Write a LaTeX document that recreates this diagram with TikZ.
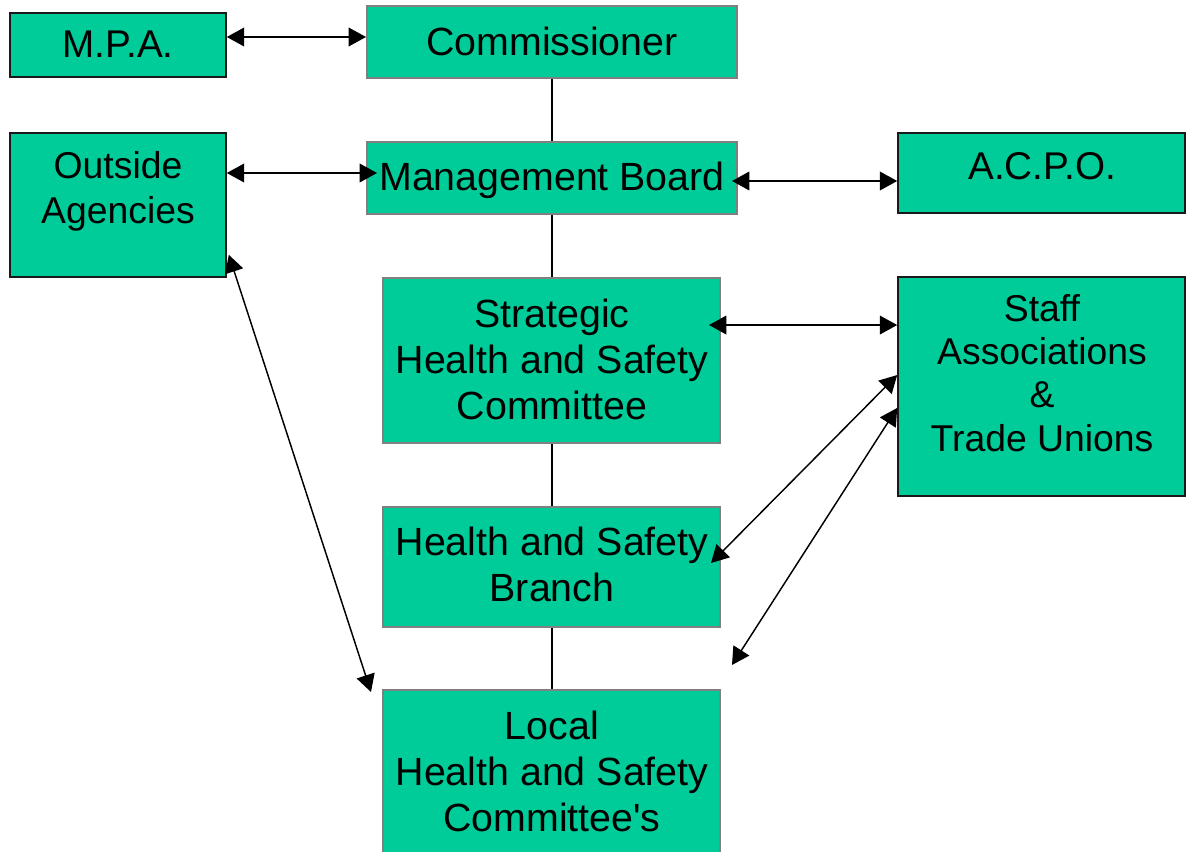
\documentclass[tikz,border=0pt]{standalone}
\usepackage{fontspec}
\setmainfont{Liberation Sans}
\usetikzlibrary{fit,arrows.meta}
\definecolor{boxgreen}{RGB}{0,204,153}
\definecolor{greyline}{RGB}{128,128,128}
\definecolor{darkline}{RGB}{25,25,25}
\tikzset{
  gbox/.style={draw=greyline, line width=1.5pt, fill=boxgreen, inner sep=0pt},
  dbox/.style={draw=darkline, line width=1.2pt, fill=boxgreen, inner sep=0pt},
  lbl/.style={anchor=north, inner sep=0pt, align=center, font=\fontsize{29.5}{34.5}\selectfont},
  slbl/.style={lbl, font=\fontsize{28}{32.5}\selectfont},
  dbl/.style={line width=1.1pt, {Triangle[length=13pt,width=14pt]}-{Triangle[length=13pt,width=14pt]}},
  spine/.style={line width=2.2pt}
}
\begin{document}
\begin{tikzpicture}[x=0.75pt,y=-0.75pt]
\useasboundingbox (0,0) rectangle (1186,852);
\clip (0,0) rectangle (1186,852);
% boxes
\node[dbox, fit={(10,13)(226,77)}] (mpa) {};
\node[gbox, fit={(367,6)(737,78)}] (comm) {};
\node[dbox, fit={(10,133)(226,277)}] (oa) {};
\node[gbox, fit={(367,142)(737,214)}] (mb) {};
\node[dbox, fit={(898,133)(1185,213)}] (acpo) {};
\node[gbox, fit={(383,278)(720,443)}] (strat) {};
\node[dbox, fit={(898,277)(1185,496)}] (staff) {};
\node[gbox, fit={(383,507)(720,627)}] (hsb) {};
\node[gbox, fit={(383,690)(720,880)}] (local) {};
% texts
\node[lbl, font=\fontsize{29}{34.5}\selectfont] (tmpa) at (118,31) {M.P.A.};
\node[lbl] (tcomm) at (552,27) {Commissioner};
\node[slbl, font=\fontsize{28}{33.75}\selectfont] (toa) at (118,151) {Outside\\Agencies};
\node[lbl] (tmb) at (552,162) {Management Board};
\node[lbl, font=\fontsize{29}{34.5}\selectfont] (tacpo) at (1042,152) {A.C.P.O.};
\node[slbl] (tstaff) at (1042,294) {Staff\\Associations\\\&\\Trade Unions};
\node[lbl] (tstrat) at (552,299) {Strategic\\Health and Safety\\Committee};
\node[lbl] (thsb) at (552,527) {Health and Safety\\Branch};
\node[lbl] (tlocal) at (552,711) {Local\\Health and Safety\\Committee\textquotesingle s};
% spine
\draw[spine] (comm.south) -- (comm.south |- mb.north);
\draw[spine] (comm.south |- mb.south) -- (comm.south |- strat.north);
\draw[spine] (comm.south |- strat.south) -- (comm.south |- hsb.north);
\draw[spine] (comm.south |- hsb.south) -- (comm.south |- local.north);
% arrows
\coordinate (free) at (732,665);
\draw[dbl] ([yshift=6pt]mpa.east) -- ([yshift=3.75pt]comm.west);
\draw[dbl] ([yshift=24pt]oa.east) -- ([xshift=8.25pt,yshift=3.75pt]mb.west);
\draw[dbl] ([xshift=-4.5pt,yshift=-2.25pt]mb.east) -- ([yshift=-6pt]acpo.west);
\draw[dbl] ([xshift=-9pt,yshift=26.6pt]strat.east) -- ([yshift=46.1pt]staff.west);
\draw[dbl] ([yshift=8.6pt]staff.west) -- ([xshift=-7.5pt,yshift=3pt]hsb.east);
\draw[dbl] ([yshift=-16.1pt]staff.west) -- (free);
\draw[dbl] ([xshift=1.5pt,yshift=17.25pt]oa.south east) -- ([xshift=-8.25pt,yshift=-2.25pt]local.north west);
\end{tikzpicture}
\end{document}
